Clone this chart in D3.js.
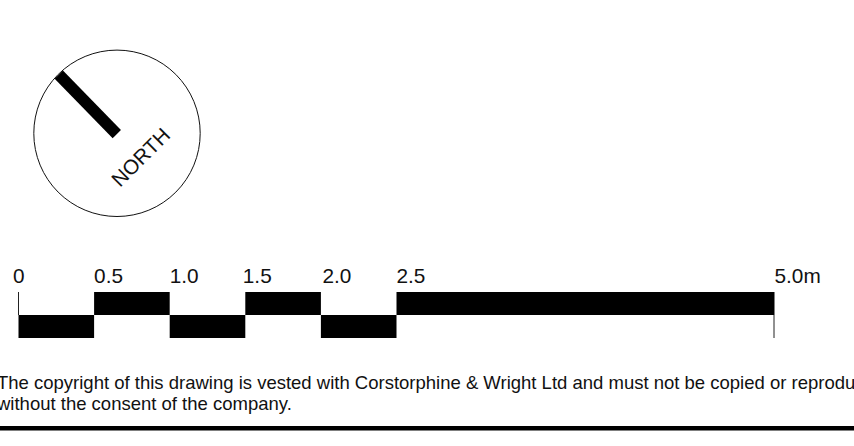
<!DOCTYPE html>
<html><head><meta charset="utf-8">
<script src="https://cdn.jsdelivr.net/npm/d3@7"></script>
<style>html,body{margin:0;padding:0;background:#fff;overflow:hidden}svg{display:block}text{font-family:"Liberation Sans",Arial,sans-serif;fill:#111}</style>
</head><body><svg id="c" width="854" height="446"></svg>
<script>
const segmentStarts=[0,0.5,1.0,1.5,2.0,2.5];
const segmentEnds=[0.5,1.0,1.5,2.0,2.5,5.0];
const segmentLevels=["low","high","low","high","low","high"];
const tickValues=[0,0.5,1.0,1.5,2.0,2.5,5.0];
const tickLabels=["0","0.5","1.0","1.5","2.0","2.5","5.0m"];
const copyrightLines=["The copyright of this drawing is vested with Corstorphine & Wright Ltd and must not be copied or reproduced","without the consent of the company."];
const northLabel="NORTH";

const svg=d3.select("#c");
const x=d3.scaleLinear().domain([0,5]).range([18.5,774.5]);
const y=d3.scaleBand().domain(["high","low"]).range([292,338]);

// compass
const g=svg.append("g");
g.append("circle").attr("cx",117).attr("cy",133.3).attr("r",83.2).attr("fill","#fff").attr("stroke","#111").attr("stroke-width",1);
g.append("line").attr("x1",58.8).attr("y1",74.6).attr("x2",116.8).attr("y2",134.1).attr("stroke","#000").attr("stroke-width",11.6);
g.append("text").attr("transform","translate(120,188) rotate(-45)").attr("font-size",20.6).text(northLabel);

// scale bar
svg.append("g").selectAll("rect").data(segmentStarts).join("rect")
 .attr("x",d=>x(d)).attr("width",(d,i)=>x(segmentEnds[i])-x(d))
 .attr("y",(d,i)=>y(segmentLevels[i])).attr("height",y.bandwidth()).attr("fill","#000");
svg.append("line").attr("x1",x(0)).attr("x2",x(0)).attr("y1",292).attr("y2",315).attr("stroke","#222").attr("stroke-width",1);
svg.append("line").attr("x1",x(5)-.5).attr("x2",x(5)-.5).attr("y1",315).attr("y2",338).attr("stroke","#222").attr("stroke-width",1);

const labelNudge=d=>d===0?-5.5:d===1.5?-2.5:d===2?1.5:0;
svg.append("g").selectAll("text").data(tickValues).join("text")
 .attr("x",d=>x(d)+labelNudge(d)).attr("y",283.3).attr("font-size",20.8).text((d,i)=>tickLabels[i]);

// copyright
svg.append("g").selectAll("text").data(copyrightLines).join("text")
 .attr("x",-3).attr("y",(d,i)=>388.5+i*21.5).attr("font-size",18.5).text(d=>d);
svg.append("line").attr("x1",0).attr("x2",854).attr("y1",428.3).attr("y2",428.3).attr("stroke","#000").attr("stroke-width",4.4);
</script></body></html>
